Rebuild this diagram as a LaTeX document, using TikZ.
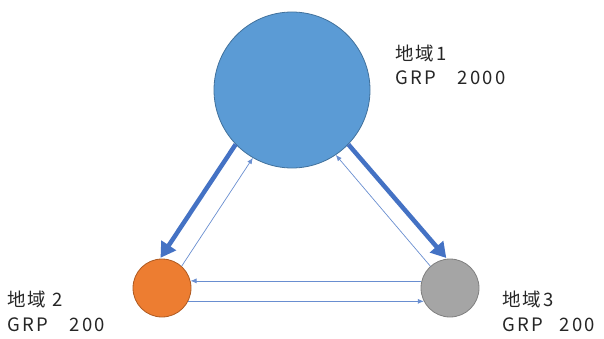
\documentclass[tikz,border=0pt]{standalone}
\usepackage{fontspec}
\setmainfont[LetterSpace=12]{Noto Sans CJK JP}
\usetikzlibrary{arrows.meta}
\definecolor{bigblue}{HTML}{5B9BD5}
\definecolor{bigblueline}{HTML}{41719C}
\definecolor{orng}{HTML}{ED7D31}
\definecolor{orngline}{HTML}{AE5A21}
\definecolor{gry}{HTML}{A5A5A5}
\definecolor{gryline}{HTML}{7F7F7F}
\definecolor{arr}{HTML}{4472C4}
\definecolor{txt}{HTML}{262626}
\tikzset{
  region/.style={circle, inner sep=0pt, line width=0.8pt},
  thick flow/.style={arr, line width=4.5pt, -{Triangle[length=15pt,width=17pt]}, shorten >=1pt},
  thin flow/.style={arr!80, line width=0.7pt, -{Latex[length=6pt,width=5pt]}},
  lbl/.style={inner sep=0pt, anchor=base west, text=txt, font=\fontsize{18.5}{21}\selectfont}
}
\begin{document}
\begin{tikzpicture}[x=1pt,y=1pt]
\useasboundingbox (0,0) rectangle (604,338);
\node[region, fill=bigblue, draw=bigblueline, minimum size=156pt] (r1) at (292,248) {};
\node[region, fill=orng, draw=orngline, minimum size=58pt] (r2) at (162,50) {};
\node[region, fill=gry, draw=gryline, minimum size=58pt] (r3) at (450,50) {};
% thick
\draw[thick flow] (r1.224) -- (r2.94);
\draw[thick flow] (r1.316) -- (r3.96);
% thin diagonal
\draw[thin flow] (r2.48) -- (r1.240);
\draw[thin flow] (r3.132) -- (r1.304);
% horizontal
\draw[thin flow] (r3.166) -- (r2.14);
\draw[thin flow] (r2.-27) -- (r3.207);
% labels
\node[lbl] (t1a) at (395,277) {地域1};
\node[lbl] (t1b) at (395,254) {GRP\hspace{22pt}2000};
\node[lbl] (t2a) at (7,32) {地域 2};
\node[lbl] (t2b) at (7,7) {GRP\hspace{22pt}200};
\node[lbl] (t3a) at (502,32) {地域3};
\node[lbl] (t3b) at (502,7) {GRP\hspace{17pt}200};
\end{tikzpicture}
\end{document}
